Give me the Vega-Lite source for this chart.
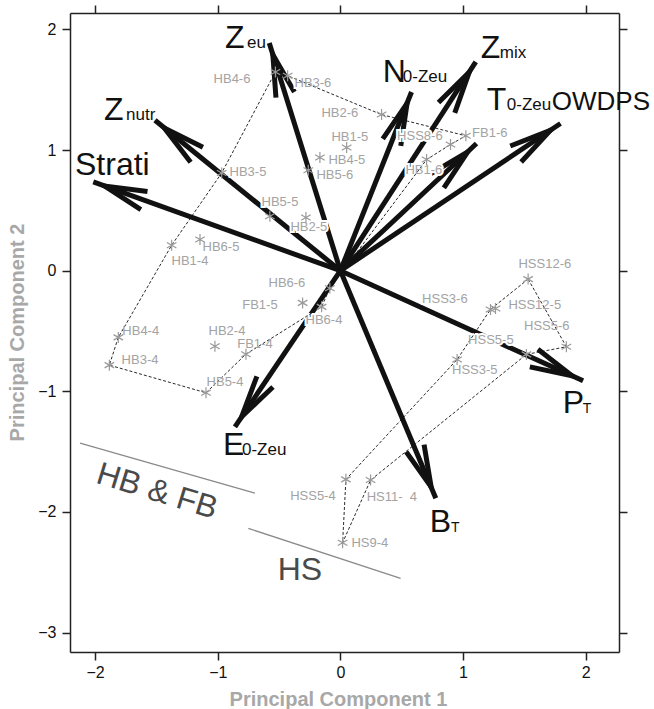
{
  "$schema": "https://vega.github.io/schema/vega-lite/v6.json",
  "width": 549,
  "height": 639,
  "autosize": {"type": "none"},
  "padding": {"left": 70, "top": 13, "right": 35, "bottom": 57},
  "background": "white",
  "config": {
    "view": {"stroke": null},
    "font": "Liberation Sans",
    "axis": {
      "grid": false,
      "domainColor": "#222222",
      "domainWidth": 1.5,
      "tickColor": "#222222",
      "tickWidth": 1.5,
      "tickSize": 8,
      "labelFont": "Liberation Sans",
      "labelFontSize": 16,
      "labelColor": "#111111",
      "titleFont": "Liberation Sans",
      "titleFontSize": 20,
      "titleFontWeight": "bold",
      "titleColor": "#a8a8a8"
    }
  },
  "datasets": {
    "pts": [
      {"name": "HB4-6", "x": -0.530, "y": 1.647, "lx": -0.884, "ly": 1.587},
      {"name": "HB3-6", "x": -0.430, "y": 1.616, "lx": -0.224, "ly": 1.553},
      {"name": "HB2-6", "x": 0.336, "y": 1.294, "lx": -0.004, "ly": 1.305},
      {"name": "HB1-5", "x": 0.051, "y": 1.021, "lx": 0.077, "ly": 1.106},
      {"name": "HB4-5", "x": -0.167, "y": 0.938, "lx": 0.053, "ly": 0.915},
      {"name": "HB5-6", "x": -0.262, "y": 0.833, "lx": -0.045, "ly": 0.791},
      {"name": "HB3-5", "x": -0.968, "y": 0.810, "lx": -0.754, "ly": 0.816},
      {"name": "HB5-5", "x": -0.575, "y": 0.452, "lx": -0.493, "ly": 0.568},
      {"name": "HB2-5", "x": -0.281, "y": 0.441, "lx": -0.257, "ly": 0.360},
      {"name": "HSS8-6", "x": 0.898, "y": 1.046, "lx": 0.648, "ly": 1.114},
      {"name": "FB1-6", "x": 1.023, "y": 1.118, "lx": 1.218, "ly": 1.139},
      {"name": "HB1-6", "x": 0.703, "y": 0.921, "lx": 0.681, "ly": 0.833},
      {"name": "HB1-4", "x": -1.376, "y": 0.211, "lx": -1.227, "ly": 0.079},
      {"name": "HB6-5", "x": -1.145, "y": 0.258, "lx": -0.974, "ly": 0.195},
      {"name": "HB6-6", "x": -0.086, "y": -0.145, "lx": -0.436, "ly": -0.104},
      {"name": "FB1-5", "x": -0.308, "y": -0.267, "lx": -0.656, "ly": -0.286},
      {"name": "HB6-4", "x": -0.153, "y": -0.300, "lx": -0.134, "ly": -0.410},
      {"name": "HB4-4", "x": -1.811, "y": -0.553, "lx": -1.628, "ly": -0.501},
      {"name": "HB3-4", "x": -1.884, "y": -0.783, "lx": -1.634, "ly": -0.741},
      {"name": "HB2-4", "x": -1.023, "y": -0.626, "lx": -0.925, "ly": -0.501},
      {"name": "FB1-4", "x": -0.770, "y": -0.692, "lx": -0.697, "ly": -0.609},
      {"name": "HB5-4", "x": -1.096, "y": -1.012, "lx": -0.941, "ly": -0.924},
      {"name": "HSS12-6", "x": 1.531, "y": -0.070, "lx": 1.667, "ly": 0.054},
      {"name": "HSS3-6", "x": 1.224, "y": -0.321, "lx": 0.852, "ly": -0.236},
      {"name": "HSS12-5", "x": 1.265, "y": -0.313, "lx": 1.585, "ly": -0.286},
      {"name": "HSS5-6", "x": 1.843, "y": -0.631, "lx": 1.683, "ly": -0.460},
      {"name": "HSS5-5", "x": 1.517, "y": -0.694, "lx": 1.227, "ly": -0.576},
      {"name": "HSS3-5", "x": 0.952, "y": -0.736, "lx": 1.096, "ly": -0.824},
      {"name": "HSS5-4", "x": 0.045, "y": -1.730, "lx": -0.224, "ly": -1.868},
      {"name": "HS11-\u00a0\u00a04", "x": 0.246, "y": -1.736, "lx": 0.420, "ly": -1.877},
      {"name": "HS9-4", "x": 0.018, "y": -2.255, "lx": 0.240, "ly": -2.258}
    ],
    "hull": [
      {"grp": "HB", "ord": 1, "x": -0.530, "y": 1.647},
      {"grp": "HB", "ord": 2, "x": -0.430, "y": 1.616},
      {"grp": "HB", "ord": 3, "x": 0.336, "y": 1.294},
      {"grp": "HB", "ord": 4, "x": 1.023, "y": 1.118},
      {"grp": "HB", "ord": 5, "x": 0.898, "y": 1.046},
      {"grp": "HB", "ord": 6, "x": 0.703, "y": 0.921},
      {"grp": "HB", "ord": 7, "x": -0.086, "y": -0.145},
      {"grp": "HB", "ord": 8, "x": -0.153, "y": -0.300},
      {"grp": "HB", "ord": 9, "x": -0.770, "y": -0.692},
      {"grp": "HB", "ord": 10, "x": -1.096, "y": -1.012},
      {"grp": "HB", "ord": 11, "x": -1.884, "y": -0.783},
      {"grp": "HB", "ord": 12, "x": -1.811, "y": -0.553},
      {"grp": "HB", "ord": 13, "x": -1.376, "y": 0.211},
      {"grp": "HB", "ord": 14, "x": -0.968, "y": 0.810},
      {"grp": "HB", "ord": 15, "x": -0.530, "y": 1.647},
      {"grp": "HS", "ord": 1, "x": 1.531, "y": -0.070},
      {"grp": "HS", "ord": 2, "x": 1.843, "y": -0.631},
      {"grp": "HS", "ord": 3, "x": 1.517, "y": -0.694},
      {"grp": "HS", "ord": 4, "x": 0.246, "y": -1.736},
      {"grp": "HS", "ord": 5, "x": 0.018, "y": -2.255},
      {"grp": "HS", "ord": 6, "x": 0.045, "y": -1.730},
      {"grp": "HS", "ord": 7, "x": 0.952, "y": -0.736},
      {"grp": "HS", "ord": 8, "x": 1.224, "y": -0.321},
      {"grp": "HS", "ord": 9, "x": 1.531, "y": -0.070}
    ],
    "arrows": [
      {"name": "Zeu", "x": -0.580, "y": 1.887},
      {"name": "Znutr", "x": -1.512, "y": 1.247},
      {"name": "Strati", "x": -2.015, "y": 0.736},
      {"name": "N0-Zeu", "x": 0.580, "y": 1.481},
      {"name": "Zmix", "x": 1.104, "y": 1.730},
      {"name": "T0-Zeu", "x": 1.110, "y": 1.054},
      {"name": "OWDPS", "x": 1.795, "y": 1.220},
      {"name": "PT", "x": 1.979, "y": -0.913},
      {"name": "BT", "x": 0.778, "y": -1.887},
      {"name": "E0-Zeu", "x": -0.860, "y": -1.294}
    ],
    "alab": [
      {"t": "Z", "role": "main", "x": -0.941, "y": 1.843},
      {"t": "Z", "role": "main", "x": -1.927, "y": 1.247},
      {"t": "Strati", "role": "main", "x": -2.164, "y": 0.791},
      {"t": "N", "role": "main", "x": 0.346, "y": 1.562},
      {"t": "Z", "role": "main", "x": 1.145, "y": 1.761},
      {"t": "T", "role": "main", "x": 1.194, "y": 1.330},
      {"t": "P", "role": "main", "x": 1.813, "y": -1.181},
      {"t": "B", "role": "main", "x": 0.729, "y": -2.167},
      {"t": "E", "role": "main", "x": -0.958, "y": -1.529},
      {"t": "eu", "role": "sub", "x": -0.762, "y": 1.843},
      {"t": "nutr", "role": "sub", "x": -1.748, "y": 1.247},
      {"t": "0-Zeu", "role": "sub", "x": 0.509, "y": 1.562},
      {"t": "mix", "role": "sub", "x": 1.300, "y": 1.761},
      {"t": "0-Zeu", "role": "sub", "x": 1.357, "y": 1.330},
      {"t": "0-Zeu", "role": "sub", "x": -0.803, "y": -1.529},
      {"t": "T", "role": "subT", "x": 1.976, "y": -1.181},
      {"t": "T", "role": "subT", "x": 0.901, "y": -2.167},
      {"t": "OWDPS", "role": "mid", "x": 1.724, "y": 1.330}
    ],
    "glines": [
      {"x": -2.123, "y": -1.429, "x2": -0.697, "y2": -1.843},
      {"x": -0.751, "y": -2.136, "x2": 0.491, "y2": -2.550}
    ],
    "gtext": [
      {"t": "HB & FB", "x": -1.495, "y": -1.828},
      {"t": "HS", "x": -0.330, "y": -2.481}
    ]
  },
  "layer": [
    {
      "mark": {"type": "rule", "color": "#c4c4c4", "strokeWidth": 1.5},
      "encoding": {"x": {"datum": 0, "type": "quantitative", "axis": null}}
    },
    {
      "mark": {"type": "rule", "color": "#c4c4c4", "strokeWidth": 1.5},
      "encoding": {"y": {"datum": 0, "type": "quantitative", "axis": null}}
    },
    {
      "data": {"name": "glines"},
      "mark": {"type": "rule", "color": "#8a8a8a", "strokeWidth": 1.3},
      "encoding": {
        "x": {"field": "x", "type": "quantitative", "axis": null},
        "y": {"field": "y", "type": "quantitative", "axis": null},
        "x2": {"field": "x2"},
        "y2": {"field": "y2"}
      }
    },
    {
      "data": {"name": "arrows"},
      "mark": {"type": "rule", "color": "#111111", "strokeWidth": 5, "strokeCap": "butt"},
      "encoding": {
        "x": {"field": "x", "type": "quantitative", "axis": null},
        "y": {"field": "y", "type": "quantitative", "axis": null},
        "x2": {"datum": 0},
        "y2": {"datum": 0}
      }
    },
    {
      "data": {"name": "arrows"},
      "transform": [{"calculate": "atan2(-datum.y, datum.x) * 180 / PI", "as": "ang"}],
      "mark": {"type": "point", "shape": "M -1.29 -0.23 L -0.29 0 L -1.29 0.23", "filled": false, "stroke": "#111111", "strokeWidth": 5, "strokeJoin": "miter", "strokeMiterLimit": 10, "size": 7056, "opacity": 1},
      "encoding": {
        "x": {"field": "x", "type": "quantitative", "axis": null},
        "y": {"field": "y", "type": "quantitative", "axis": null},
        "angle": {"field": "ang", "type": "quantitative", "scale": null}
      }
    },
    {
      "data": {"name": "pts"},
      "mark": {"type": "text", "fontSize": 13, "stroke": "white", "strokeWidth": 4, "fill": "white", "align": "center", "baseline": "middle"},
      "encoding": {
        "x": {"field": "lx", "type": "quantitative", "axis": null},
        "y": {"field": "ly", "type": "quantitative", "axis": null},
        "text": {"field": "name"}
      }
    },
    {
      "data": {"name": "hull"},
      "mark": {"type": "line", "color": "#111111", "strokeWidth": 0.9, "strokeDash": [3, 2]},
      "encoding": {
        "x": {"field": "x", "type": "quantitative", "scale": {"domain": [-2.205, 2.272], "nice": false, "zero": false}, "axis": {"orient": "top", "values": [-2, -1, 0, 1, 2], "labels": false, "title": null}},
        "y": {"field": "y", "type": "quantitative", "scale": {"domain": [-3.161, 2.136], "nice": false, "zero": false}, "axis": {"orient": "right", "values": [-3, -2, -1, 0, 1, 2], "labels": false, "title": null}},
        "detail": {"field": "grp"},
        "order": {"field": "ord", "type": "quantitative"}
      }
    },
    {
      "data": {"name": "pts"},
      "mark": {"type": "point", "shape": "M0,-1L0,1M-0.87,-0.5L0.87,0.5M-0.87,0.5L0.87,-0.5", "filled": false, "stroke": "#9a9a9a", "strokeWidth": 1.2, "size": 121, "opacity": 1},
      "encoding": {
        "x": {"field": "x", "type": "quantitative", "scale": {"domain": [-2.205, 2.272], "nice": false, "zero": false}, "axis": {"orient": "bottom", "values": [-2, -1, 0, 1, 2], "labelPadding": 4, "title": "Principal Component 1", "titleX": 268, "titleY": 53, "titleBaseline": "alphabetic"}},
        "y": {"field": "y", "type": "quantitative", "scale": {"domain": [-3.161, 2.136], "nice": false, "zero": false}, "axis": {"orient": "left", "values": [-3, -2, -1, 0, 1, 2], "labelPadding": 6, "title": "Principal Component 2", "titleX": -47, "titleY": 319, "titleBaseline": "alphabetic"}}
      }
    },
    {
      "data": {"name": "pts"},
      "mark": {"type": "text", "fontSize": 13, "color": "#a3a3a3", "align": "center", "baseline": "middle"},
      "encoding": {
        "x": {"field": "lx", "type": "quantitative", "axis": null},
        "y": {"field": "ly", "type": "quantitative", "axis": null},
        "text": {"field": "name"}
      }
    },
    {
      "data": {"name": "alab"},
      "transform": [{"filter": "datum.role === 'main'"}],
      "mark": {"type": "text", "fontSize": 32, "color": "#111111", "align": "left", "baseline": "alphabetic"},
      "encoding": {
        "x": {"field": "x", "type": "quantitative", "axis": null},
        "y": {"field": "y", "type": "quantitative", "axis": null},
        "text": {"field": "t"}
      }
    },
    {
      "data": {"name": "alab"},
      "transform": [{"filter": "datum.role === 'sub'"}],
      "mark": {"type": "text", "fontSize": 17, "color": "#111111", "align": "left", "baseline": "alphabetic"},
      "encoding": {
        "x": {"field": "x", "type": "quantitative", "axis": null},
        "y": {"field": "y", "type": "quantitative", "axis": null},
        "text": {"field": "t"}
      }
    },
    {
      "data": {"name": "alab"},
      "transform": [{"filter": "datum.role === 'subT'"}],
      "mark": {"type": "text", "fontSize": 14, "color": "#111111", "align": "left", "baseline": "alphabetic"},
      "encoding": {
        "x": {"field": "x", "type": "quantitative", "axis": null},
        "y": {"field": "y", "type": "quantitative", "axis": null},
        "text": {"field": "t"}
      }
    },
    {
      "data": {"name": "alab"},
      "transform": [{"filter": "datum.role === 'mid'"}],
      "mark": {"type": "text", "fontSize": 26, "color": "#111111", "align": "left", "baseline": "alphabetic"},
      "encoding": {
        "x": {"field": "x", "type": "quantitative", "axis": null},
        "y": {"field": "y", "type": "quantitative", "axis": null},
        "text": {"field": "t"}
      }
    },
    {
      "data": {"name": "gtext"},
      "transform": [{"filter": "datum.t === 'HB & FB'"}],
      "mark": {"type": "text", "fontSize": 32, "color": "#4a4a4a", "align": "center", "baseline": "middle", "angle": 17},
      "encoding": {
        "x": {"field": "x", "type": "quantitative", "axis": null},
        "y": {"field": "y", "type": "quantitative", "axis": null},
        "text": {"field": "t"}
      }
    },
    {
      "data": {"name": "gtext"},
      "transform": [{"filter": "datum.t === 'HS'"}],
      "mark": {"type": "text", "fontSize": 32, "color": "#4a4a4a", "align": "center", "baseline": "middle"},
      "encoding": {
        "x": {"field": "x", "type": "quantitative", "axis": null},
        "y": {"field": "y", "type": "quantitative", "axis": null},
        "text": {"field": "t"}
      }
    }
  ],
  "resolve": {"axis": {"x": "independent", "y": "independent"}}
}
